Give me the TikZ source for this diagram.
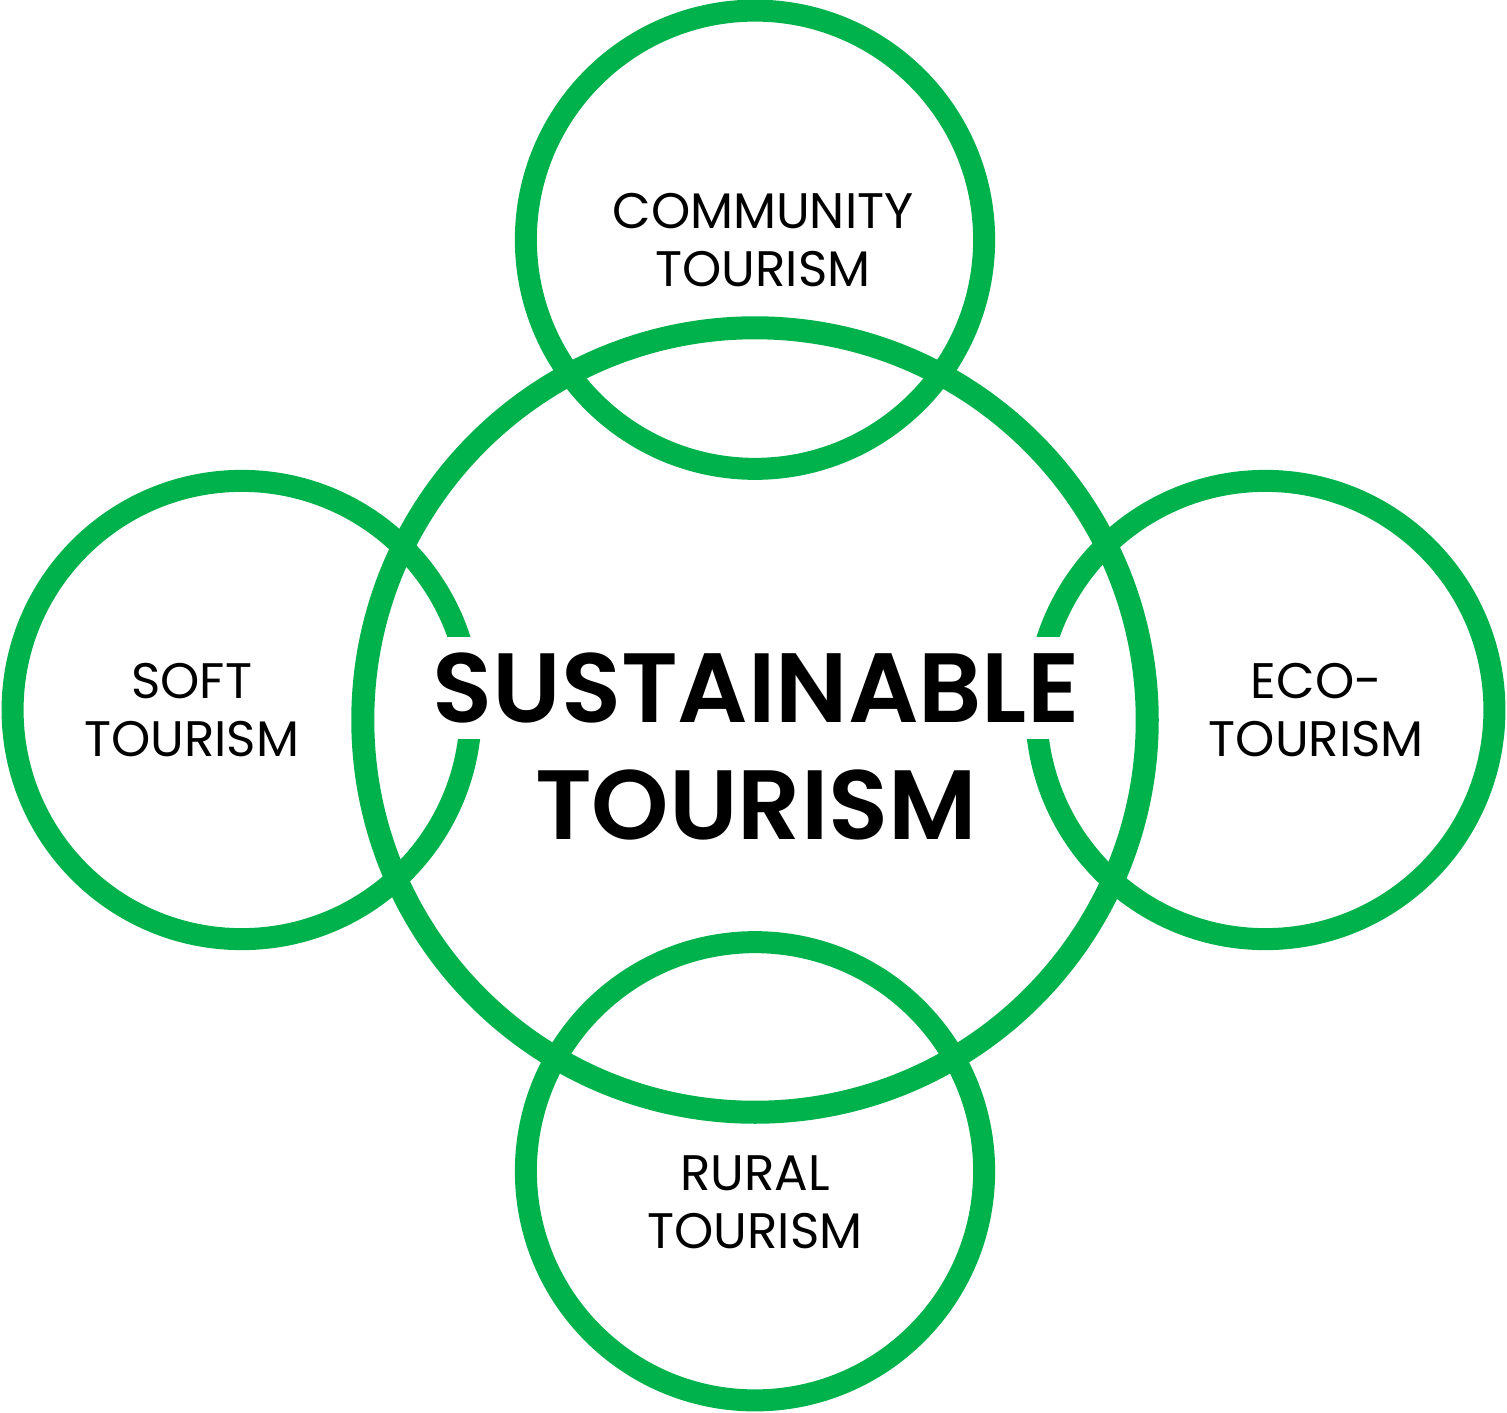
\documentclass[tikz,border=0pt]{standalone}
\usepackage{fontspec}
\setmainfont{Poppins}[BoldFont={Poppins SemiBold}]
\usetikzlibrary{positioning}
\definecolor{ringgreen}{RGB}{0,178,76}

\begin{document}
\begin{tikzpicture}[x=0.01cm,y=-0.01cm,node distance=4.8cm,
  main ring/.style={circle,draw=ringgreen,line width=0.23cm,
  minimum size=7.84cm,inner sep=0pt},
  side ring/.style={circle,draw=ringgreen,line width=0.22cm,
  minimum size=4.58cm,inner sep=0pt},
  side text/.style={align=center,inner sep=0pt,
  font=\fontsize{14.2}{16.5}\selectfont},
  main text/.style={inner sep=0pt,
  font=\fontsize{28}{34}\selectfont\bfseries}]

  \useasboundingbox (0,0) rectangle (1507,1412);

  %Main circle and the four around it%
  \node[main ring] (ST) at (755,720) {};
  \node[side ring] (CT) [above of=ST,node distance=4.8cm] {};
  \node[side ring] (RT) [below of=ST,node distance=4.51cm] {};
  \node[side ring] (SoT) [left of=ST,node distance=5.13cm,yshift=0.1cm] {};
  \node[side ring] (EcT) [right of=ST,node distance=5.10cm,yshift=0.1cm] {};

  %Labels of the outer circles%
  \node[side text] (CTlabel) at ([xshift=0.08cm]CT) {COMMUNITY\\TOURISM};
  \node[side text] (SoTlabel) at ([xshift=-0.5cm]SoT) {SOFT\\TOURISM};
  \node[side text] (EcTlabel) at ([xshift=0.51cm]EcT) {ECO-\\TOURISM};
  \node[side text] (RTlabel) at ([yshift=-0.31cm]RT) {RURAL\\TOURISM};

  %Title in the middle, first line on white%
  \node[main text,fill=white,text height=0.69cm,text depth=0pt,
  inner xsep=0.06cm,inner ysep=0.16cm] (STtop) at (756,688) {SUSTAINABLE};
  \node[main text] (STbottom) [below of=STtop,node distance=1.17cm] {TOURISM};

\end{tikzpicture}
\end{document}
